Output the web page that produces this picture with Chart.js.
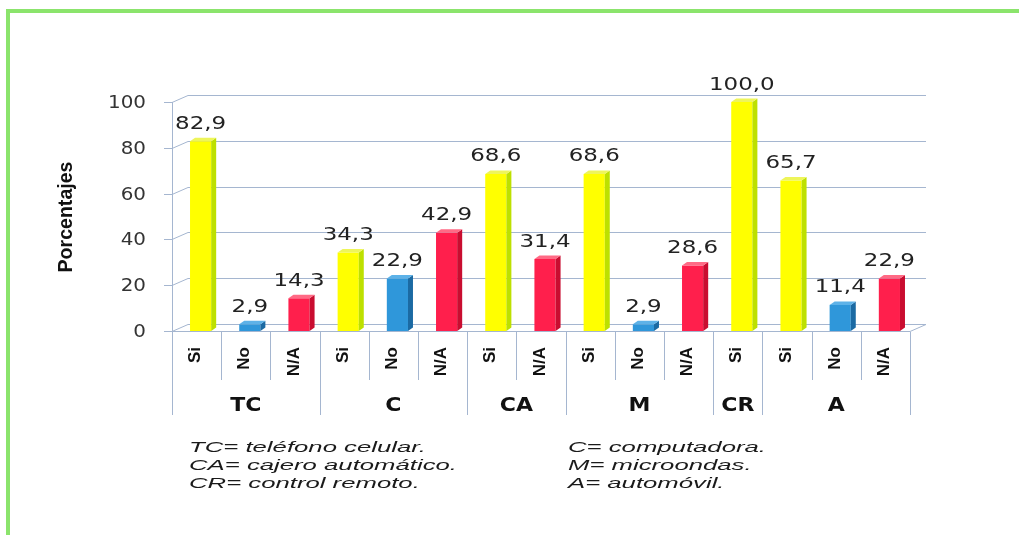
<!DOCTYPE html>
<html>
<head>
<meta charset="utf-8">
<script src="https://cdn.jsdelivr.net/npm/chart.js@4.4.1/dist/chart.umd.min.js"></script>
<style>
  html, body { margin: 0; padding: 0; background: #ffffff; }
  #wrap { position: relative; width: 1019px; height: 535px; overflow: hidden; }
  #frame { position: absolute; left: 6px; top: 9px; width: 1100px; height: 600px;
           border-left: 4px solid #8be46c; border-top: 4px solid #8be46c; box-sizing: border-box; }
  canvas { position: absolute; left: 0; top: 0; }
</style>
</head>
<body>
<div id="wrap">
  <div id="frame"></div>
  <canvas id="c" width="1019" height="535"></canvas>
</div>
<script>
// ---- data ----
const groupOf   = ['TC','TC','TC','C','C','C','CA','CA','M','M','M','CR','A','A','A'];
const subLabels = ['Si','No','N/A','Si','No','N/A','Si','N/A','Si','No','N/A','Si','Si','No','N/A'];
const values    = [82.9, 2.9, 14.3, 34.3, 22.9, 42.9, 68.6, 31.4, 68.6, 2.9, 28.6, 100.0, 65.7, 11.4, 22.9];
const yTicks    = [0, 20, 40, 60, 80, 100];
const yTitle    = 'Porcentajes';
const legendLeft  = ['TC= teléfono celular.', 'CA= cajero automático.', 'CR= control remoto.'];
const legendRight = ['C= computadora.', 'M= microondas.', 'A= automóvil.'];

// ---- styles ----
const seriesColors = {
  'Si':  { front: '#ffff00', side: '#bde000', top: '#eef55a' },
  'No':  { front: '#2f97da', side: '#1b6aa3', top: '#5db2e8' },
  'N/A': { front: '#ff1f4c', side: '#c90d30', top: '#ff6a85' }
};
const GRID = '#a5b6d0';
const WDX = 16, WDY = 7;     // wall depth
const BDX = 5, BDY = 3.5;    // bar depth
const SHIFT = 4;             // bar shift inside slot

function fitText(ctx, text, x, y, font, sx, align, color) {
  ctx.save();
  ctx.font = font;
  ctx.fillStyle = color;
  ctx.textBaseline = 'alphabetic';
  const w = ctx.measureText(text).width * sx;
  let x0 = x;
  if (align === 'center') x0 = x - w / 2;
  else if (align === 'right') x0 = x - w;
  ctx.translate(x0, y);
  ctx.scale(sx, 1);
  ctx.textAlign = 'left';
  ctx.fillText(text, 0, 0);
  ctx.restore();
}

const decor = {
  id: 'decor',
  beforeDatasetsDraw(chart) {
    const { ctx, chartArea: a, scales: { x, y } } = chart;
    ctx.save();
    ctx.strokeStyle = GRID;
    ctx.lineWidth = 1;
    // walls / gridlines
    yTicks.forEach(v => {
      const py = Math.round(y.getPixelForValue(v)) + 0.5;
      ctx.beginPath();
      ctx.moveTo(a.left - 8, py);
      ctx.lineTo(a.left, py);
      ctx.lineTo(a.left + WDX, py - WDY);
      ctx.lineTo(a.right + WDX, py - WDY);
      ctx.stroke();
      if (v === 0) {
        ctx.beginPath();
        ctx.moveTo(a.left, py);
        ctx.lineTo(a.right, py);
        ctx.lineTo(a.right + WDX, py - WDY);
        ctx.stroke();
      }
    });
    // front vertical axis
    const axX = Math.round(a.left) + 0.5;
    ctx.beginPath();
    ctx.moveTo(axX, y.getPixelForValue(100));
    ctx.lineTo(axX, y.getPixelForValue(0));
    ctx.stroke();
    // category separators
    const slot = x.getPixelForValue(1) - x.getPixelForValue(0);
    const base = y.getPixelForValue(0);
    for (let i = 0; i <= subLabels.length; i++) {
      const px = Math.round(x.getPixelForValue(Math.min(i, subLabels.length - 1)) + (i === subLabels.length ? slot / 2 : -slot / 2)) + 0.5;
      const isGroup = i === 0 || i === subLabels.length || groupOf[i] !== groupOf[i - 1];
      ctx.beginPath();
      ctx.moveTo(px, base + 1);
      ctx.lineTo(px, isGroup ? 415 : 380);
      ctx.stroke();
    }
    ctx.restore();

    // y tick labels
    yTicks.forEach(v => {
      const py = y.getPixelForValue(v);
      fitText(ctx, String(v), 146, py + 6, '17px "DejaVu Sans"', 1.17, 'right', '#333333');
    });

    // y title
    ctx.save();
    ctx.font = 'bold 21px "Liberation Sans", Arial, sans-serif';
    ctx.fillStyle = '#111111';
    const tw = ctx.measureText(yTitle).width;
    ctx.translate(66, 217);
    ctx.rotate(-Math.PI / 2);
    ctx.scale(111 / tw, 1);
    ctx.textAlign = 'center';
    ctx.textBaseline = 'middle';
    ctx.fillText(yTitle, 0, 0);
    ctx.restore();

    // sub labels (rotated)
    subLabels.forEach((s, i) => {
      const cx = x.getPixelForValue(i);
      ctx.save();
      ctx.font = 'bold 17px "Liberation Sans", Arial, sans-serif';
      ctx.fillStyle = '#111111';
      ctx.translate(cx + 3.5, 347);
      ctx.rotate(-Math.PI / 2);
      ctx.textAlign = 'right';
      ctx.textBaseline = 'alphabetic';
      ctx.fillText(s, 0, 0);
      ctx.restore();
    });

    // group labels
    let start = 0;
    for (let i = 1; i <= groupOf.length; i++) {
      if (i === groupOf.length || groupOf[i] !== groupOf[start]) {
        const cx = (x.getPixelForValue(start) + x.getPixelForValue(i - 1)) / 2;
        fitText(ctx, groupOf[start], cx, 411, 'bold 20px "DejaVu Sans"', 1.1, 'center', '#111111');
        start = i;
      }
    }

    // legend text
    ctx.save();
    ctx.font = 'italic 15px "Liberation Sans", Arial, sans-serif';
    const lsx = 237 / ctx.measureText(legendLeft[0]).width;
    ctx.restore();
    legendLeft.forEach((t, i) => fitText(ctx, t, 189, 452 + i * 18, 'italic 15px "Liberation Sans", Arial, sans-serif', lsx, 'left', '#1a1a1a'));
    legendRight.forEach((t, i) => fitText(ctx, t, 568, 452 + i * 18, 'italic 15px "Liberation Sans", Arial, sans-serif', lsx, 'left', '#1a1a1a'));

    // shift bars
    ctx.save();
    ctx.translate(SHIFT, 0);
  },
  afterDatasetsDraw(chart) {
    const { ctx } = chart;
    const meta = chart.getDatasetMeta(0);
    meta.data.forEach((bar, i) => {
      const c = seriesColors[subLabels[i]];
      const xl = bar.x - bar.width / 2, xr = bar.x + bar.width / 2;
      const top = bar.y, base = bar.base;
      ctx.fillStyle = c.side;
      ctx.beginPath();
      ctx.moveTo(xr, top); ctx.lineTo(xr + BDX, top - BDY);
      ctx.lineTo(xr + BDX, base - BDY); ctx.lineTo(xr, base);
      ctx.closePath(); ctx.fill();
      ctx.fillStyle = c.top;
      ctx.beginPath();
      ctx.moveTo(xl, top); ctx.lineTo(xl + BDX, top - BDY);
      ctx.lineTo(xr + BDX, top - BDY); ctx.lineTo(xr, top);
      ctx.closePath(); ctx.fill();
      const lbl = values[i].toFixed(1).replace('.', ',');
      fitText(ctx, lbl, bar.x, top - 12.5, '17px "DejaVu Sans"', 1.35, 'center', '#222222');
    });
    ctx.restore();
  }
};

new Chart(document.getElementById('c'), {
  type: 'bar',
  data: {
    labels: subLabels.map((s, i) => s + ' ' + groupOf[i]),
    datasets: [{
      data: values,
      backgroundColor: subLabels.map(s => seriesColors[s].front),
      borderWidth: 0,
      categoryPercentage: 1,
      barPercentage: 0.43
    }]
  },
  options: {
    responsive: false,
    animation: false,
    devicePixelRatio: 1,
    layout: { padding: { left: 172, right: 109, top: 102, bottom: 204 } },
    plugins: { legend: { display: false }, tooltip: { enabled: false } },
    scales: {
      x: { type: 'category', display: false, offset: true },
      y: { display: false, min: 0, max: 100 }
    }
  },
  plugins: [decor]
});
</script>
</body>
</html>
